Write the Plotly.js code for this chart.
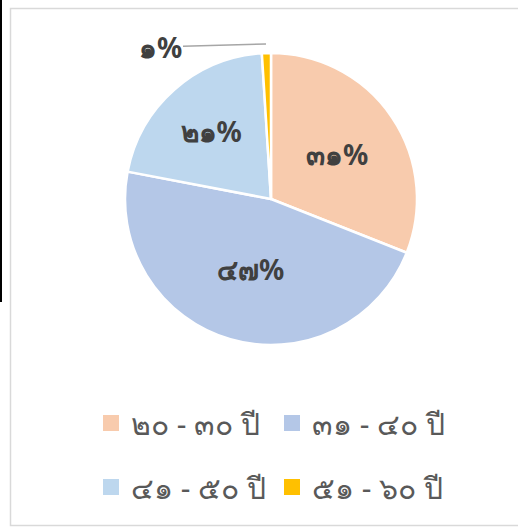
<!DOCTYPE html>
<html><head><meta charset="utf-8">
<script src="https://cdn.plot.ly/plotly-3.0.1.min.js"></script>
<style>html,body{margin:0;padding:0;background:#fff;}</style>
</head><body>
<div id="chart" style="width:518px;height:529px;"></div>
<script>
const categories = ['๒๐ - ๓๐ ปี', '๓๑ - ๔๐ ปี', '๔๑ - ๕๐ ปี', '๕๑ - ๖๐ ปี'];
const values = [31, 47, 21, 1];
const colors = ['#F8CBAD', '#B4C7E7', '#BDD7EE', '#FFC000'];

const thaiDigits = '๐๑๒๓๔๕๖๗๘๙';
function toThai(n){ return String(n).replace(/[0-9]/g, d => thaiDigits[+d]); }
const total = values.reduce((a,b)=>a+b,0);
const pctText = values.map(v => toThai(Math.round(v/total*100)) + '%');

const W = 518, H = 529;
const px = x => x / W, py = y => 1 - y / H;
const FONT = 'Noto Sans, DejaVu Sans, sans-serif';

const pie = {
  type: 'pie',
  labels: categories,
  values: values,
  text: pctText,
  texttemplate: '%{text}',
  textinfo: 'text',
  textposition: ['inside','inside','inside','none'],
  insidetextorientation: 'horizontal',
  sort: false,
  direction: 'clockwise',
  rotation: 0,
  showlegend: false,
  marker: {colors: colors, line: {color: '#ffffff', width: 2.5}},
  textfont: {family: FONT, size: 28, color: '#404040', weight: 'bold'},
  domain: {x: [px(271-146), px(271+146)], y: [py(199+146), py(199-146)]},
  hoverinfo: 'none'
};

// legend entries (two rows of two), built from categories/colors
const legendTraces = categories.map((c, i) => ({
  type: 'scatter', mode: 'markers', x: [null], y: [null], name: c,
  marker: {symbol: 'square', size: 17, color: colors[i]},
  legend: i < 2 ? 'legend' : 'legend2', hoverinfo: 'none'
}));

const legendCommon = {
  orientation: 'h', xanchor: 'left', yanchor: 'middle',
  entrywidth: 136, entrywidthmode: 'pixels', bgcolor: 'rgba(0,0,0,0)',
  font: {family: FONT, size: 30, color: '#595959'},
  itemwidth: 30, itemsizing: 'trace'
};

const layout = {
  width: W, height: H,
  margin: {l:0, r:0, t:0, b:0, autoexpand: false},
  paper_bgcolor: '#ffffff', plot_bgcolor: 'rgba(0,0,0,0)',
  xaxis: {visible: false}, yaxis: {visible: false},
  showlegend: true,
  legend: Object.assign({}, legendCommon, {x: px(91), y: py(423)}),
  legend2: Object.assign({}, legendCommon, {x: px(91), y: py(487)}),
  shapes: [
    {type:'rect', xref:'paper', yref:'paper', x0: px(10.5), x1: px(525), y0: py(8.5), y1: py(525.5), line:{color:'#D9D9D9', width:1.5}},
    {type:'line', xref:'paper', yref:'paper', x0: px(1), x1: px(1), y0: py(0), y1: py(302), line:{color:'#000000', width:2}}
  ],
  annotations: [
    {xref:'paper', yref:'paper', x: px(266), y: py(44), text: toThai(values[3]) + '%',
     showarrow: true, arrowhead: 0, arrowwidth: 1.5, arrowcolor: '#A6A6A6', ax: -106, ay: 3,
     font: {family: FONT, size: 28, color: '#404040', weight: 'bold'}}
  ]
};

Plotly.newPlot('chart', [pie].concat(legendTraces), layout, {displayModeBar: false, staticPlot: true});
</script>
</body></html>
